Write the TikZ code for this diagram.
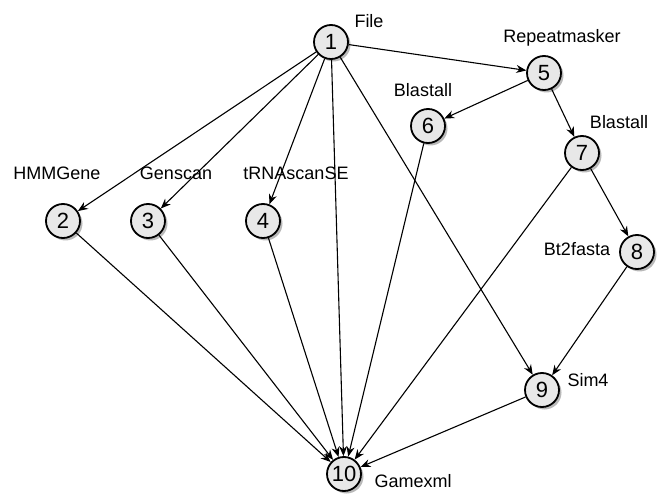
\documentclass[tikz,border=0pt]{standalone}
\usepackage{fontspec}
\setmainfont{Liberation Sans}
\usetikzlibrary{arrows.meta,shadows}
\begin{document}
\begin{tikzpicture}[x=1pt,y=-1pt,
  job/.style={circle,draw=black,line width=1.8pt,fill=gray!18,minimum size=34pt,inner sep=0pt,
    font=\fontsize{22}{22}\selectfont,
    drop shadow={shadow xshift=2.5pt,shadow yshift=-2.5pt,fill=gray!55,opacity=1}},
  lab/.style={font=\fontsize{18}{18}\selectfont,inner sep=0pt},
  edge/.style={line width=1.1pt,-{Stealth[length=10pt,width=8pt]}}]
\useasboundingbox (0,0) rectangle (661,494);
\node[job] (n1) at (331,42) {1};
\node[job] (n2) at (63,221) {2};
\node[job] (n3) at (148,221) {3};
\node[job] (n4) at (263,221) {4};
\node[job] (n5) at (544,73) {5};
\node[job] (n6) at (428,126) {6};
\node[job] (n7) at (582,153) {7};
\node[job] (n8) at (637,252) {8};
\node[job] (n9) at (542,390) {9};
\node[job] (n10) at (344,474) {10};
\node[lab] (l1) at (369,21) {File};
\node[lab] (l5) at (562,38) {Repeatmasker};
\node[lab] (l6) at (423,90) {Blastall};
\node[lab] (l7) at (619,122) {Blastall};
\node[lab] (l2) at (57,173) {HMMGene};
\node[lab] (l3) at (176,173) {Genscan};
\node[lab] (l4) at (296,173) {tRNAscanSE};
\node[lab] (l8) at (577,249) {Bt2fasta};
\node[lab] (l9) at (588,380) {Sim4};
\node[lab] (l10) at (413,481) {Gamexml};
\draw[edge] (n1) -- (n5);
\draw[edge] (n1) -- (n2);
\draw[edge] (n1) -- (n3);
\draw[edge] (n1) -- (n4);
\draw[edge] (n1) -- (n10);
\draw[edge] (n1) -- (n9);
\draw[edge] (n5) -- (n6);
\draw[edge] (n5) -- (n7);
\draw[edge] (n7) -- (n8);
\draw[edge] (n8) -- (n9);
\draw[edge] (n6) -- (n10);
\draw[edge] (n7) -- (n10);
\draw[edge] (n2) -- (n10);
\draw[edge] (n3) -- (n10);
\draw[edge] (n4) -- (n10);
\draw[edge] (n9) -- (n10);
\end{tikzpicture}
\end{document}
